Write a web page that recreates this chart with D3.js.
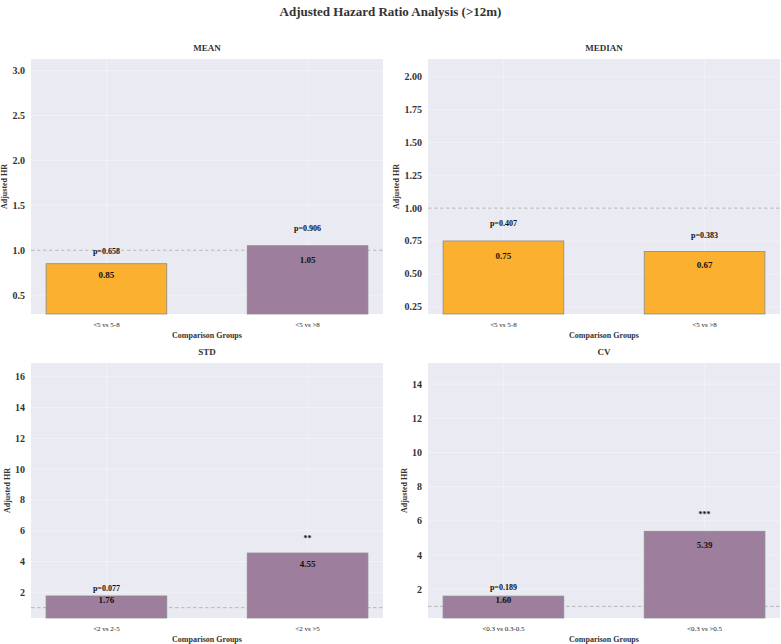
<!DOCTYPE html>
<html>
<head>
<meta charset="utf-8">
<script src="https://cdn.jsdelivr.net/npm/d3@7"></script>
<style>
  body { margin: 0; background: #fff; }
  svg { display: block; font-family: "Liberation Serif", "DejaVu Serif", serif; }
</style>
</head>
<body>
<svg id="chart" width="781" height="644"></svg>
<script>
// values
const panelNames = ["MEAN", "MEDIAN", "STD", "CV"];

const meanGroups = ["<5 vs 5-8", "<5 vs >8"];
const medianGroups = ["<5 vs 5-8", "<5 vs >8"];
const stdGroups = ["<2 vs 2-5", "<2 vs >5"];
const cvGroups = ["<0.3 vs 0.3-0.5", "<0.3 vs >0.5"];

const meanHR = [0.85, 1.05];
const medianHR = [0.75, 0.67];
const stdHR = [1.76, 4.55];
const cvHR = [1.60, 5.39];

const meanP = ["p=0.658", "p=0.906"];
const medianP = ["p=0.407", "p=0.383"];
const stdP = ["p=0.077", "**"];
const cvP = ["p=0.189", "***"];

// where the p / star labels sit (in HR units)
const meanPY = [0.99, 1.24];
const medianPY = [0.885, 0.79];
const stdPY = [2.26, 5.47];
const cvPY = [2.09, 6.35];

const meanDomain = [0.29, 3.13];
const medianDomain = [0.194, 2.135];
const stdDomain = [0.33, 16.89];
const cvDomain = [0.32, 15.23];

const meanTicks = [0.5, 1.0, 1.5, 2.0, 2.5, 3.0];
const medianTicks = [0.25, 0.5, 0.75, 1.0, 1.25, 1.5, 1.75, 2.0];
const stdTicks = [2, 4, 6, 8, 10, 12, 14, 16];
const cvTicks = [2, 4, 6, 8, 10, 12, 14];

const tickFormats = [d3.format(".1f"), d3.format(".2f"), d3.format("d"), d3.format("d")];

const panels = [
  { groups: meanGroups, hr: meanHR, p: meanP, py: meanPY, domain: meanDomain, ticks: meanTicks },
  { groups: medianGroups, hr: medianHR, p: medianP, py: medianPY, domain: medianDomain, ticks: medianTicks },
  { groups: stdGroups, hr: stdHR, p: stdP, py: stdPY, domain: stdDomain, ticks: stdTicks },
  { groups: cvGroups, hr: cvHR, p: cvP, py: cvPY, domain: cvDomain, ticks: cvTicks }
];

const colLeft = [31, 428], colRight = [383, 780];
const rowTop = [59, 363], rowBottom = [314, 618];

const orange = "#fbb12f";
const purple = "#9e7e9d";

const svg = d3.select("#chart");

svg.append("text")
    .attr("x", 390.5)
    .attr("y", 11)
    .attr("text-anchor", "middle")
    .attr("dominant-baseline", "central")
    .style("font-size", "13px")
    .style("font-weight", "bold")
    .style("fill", "#333")
    .text("Adjusted Hazard Ratio Analysis (>12m)");

panels.forEach((pn, k) => {
    const col = k % 2, row = Math.floor(k / 2);
    const left = colLeft[col], right = colRight[col];
    const top = rowTop[row], bottom = rowBottom[row];

    const x = d3.scaleLinear().domain([-0.375, 1.375]).range([left, right]);
    const y = d3.scaleLinear().domain(pn.domain).range([bottom, top]);

    const g = svg.append("g");

    // background
    g.append("rect")
        .attr("x", left).attr("y", top)
        .attr("width", right - left).attr("height", bottom - top)
        .attr("fill", "#eaeaf2");

    // grid
    g.selectAll(".hgrid").data(pn.ticks).enter().append("line")
        .attr("x1", left).attr("x2", right)
        .attr("y1", d => y(d)).attr("y2", d => y(d))
        .attr("stroke", "#fff").attr("stroke-opacity", 0.35).attr("stroke-width", 1);
    g.selectAll(".vgrid").data(pn.groups).enter().append("line")
        .attr("x1", (d, i) => x(i)).attr("x2", (d, i) => x(i))
        .attr("y1", top).attr("y2", bottom)
        .attr("stroke", "#fff").attr("stroke-opacity", 0.3).attr("stroke-width", 1);

    // reference line at HR = 1
    g.append("line")
        .attr("x1", left).attr("x2", right)
        .attr("y1", y(1)).attr("y2", y(1))
        .attr("stroke", "#aaa").attr("stroke-width", 0.8)
        .attr("stroke-dasharray", "3.5,2.5");

    // bars
    g.selectAll(".bar").data(pn.hr).enter().append("rect")
        .attr("x", (d, i) => x(i - 0.3))
        .attr("width", (d, i) => x(i + 0.3) - x(i - 0.3))
        .attr("y", d => y(d))
        .attr("height", d => bottom - y(d))
        .attr("fill", d => d < 1 ? orange : purple)
        .attr("stroke", "#8a8a8a").attr("stroke-width", 0.8);

    // value labels inside the bars
    g.selectAll(".val").data(pn.hr).enter().append("text")
        .attr("x", (d, i) => x(i))
        .attr("y", d => y(d * 0.85))
        .attr("text-anchor", "middle")
        .attr("dominant-baseline", "central")
        .style("font-size", "9px").style("font-weight", "bold").style("fill", "#111")
        .text(d => d.toFixed(2));

    // p-value / star labels
    g.selectAll(".pl").data(pn.p).enter().append("text")
        .attr("x", (d, i) => x(i))
        .attr("y", (d, i) => y(pn.py[i]))
        .attr("text-anchor", "middle")
        .attr("dominant-baseline", "central")
        .style("font-size", "8px").style("font-weight", "bold").style("fill", "#111")
        .text(d => d);

    // y ticks
    const yt = g.selectAll(".yt").data(pn.ticks).enter().append("text")
        .attr("x", left - 6)
        .attr("y", d => y(d))
        .attr("text-anchor", "end")
        .attr("dominant-baseline", "central")
        .style("font-size", "10px").style("font-weight", "bold").style("fill", "#333")
        .text(d => tickFormats[k](d));
    let maxW = 0;
    yt.each(function() { maxW = Math.max(maxW, this.getBBox().width); });

    // x ticks
    g.selectAll(".xt").data(pn.groups).enter().append("text")
        .attr("x", (d, i) => x(i))
        .attr("y", bottom + 11)
        .attr("text-anchor", "middle")
        .attr("dominant-baseline", "central")
        .style("font-size", "7px").style("fill", "#222")
        .text(d => d);

    // axis labels
    g.append("text")
        .attr("x", (left + right) / 2)
        .attr("y", bottom + 21)
        .attr("text-anchor", "middle")
        .attr("dominant-baseline", "central")
        .style("font-size", "8px").style("font-weight", "bold").style("fill", "#333")
        .text("Comparison Groups");

    const lx = left - 6 - maxW - 8;
    g.append("text")
        .attr("transform", `translate(${lx},${(top + bottom) / 2}) rotate(-90)`)
        .attr("text-anchor", "middle")
        .attr("dominant-baseline", "central")
        .style("font-size", "8px").style("font-weight", "bold").style("fill", "#333")
        .text("Adjusted HR");

    // panel title
    g.append("text")
        .attr("x", (left + right) / 2)
        .attr("y", top - 11)
        .attr("text-anchor", "middle")
        .attr("dominant-baseline", "central")
        .style("font-size", "9px").style("font-weight", "bold").style("fill", "#333")
        .text(panelNames[k]);
});
</script>
</body>
</html>
